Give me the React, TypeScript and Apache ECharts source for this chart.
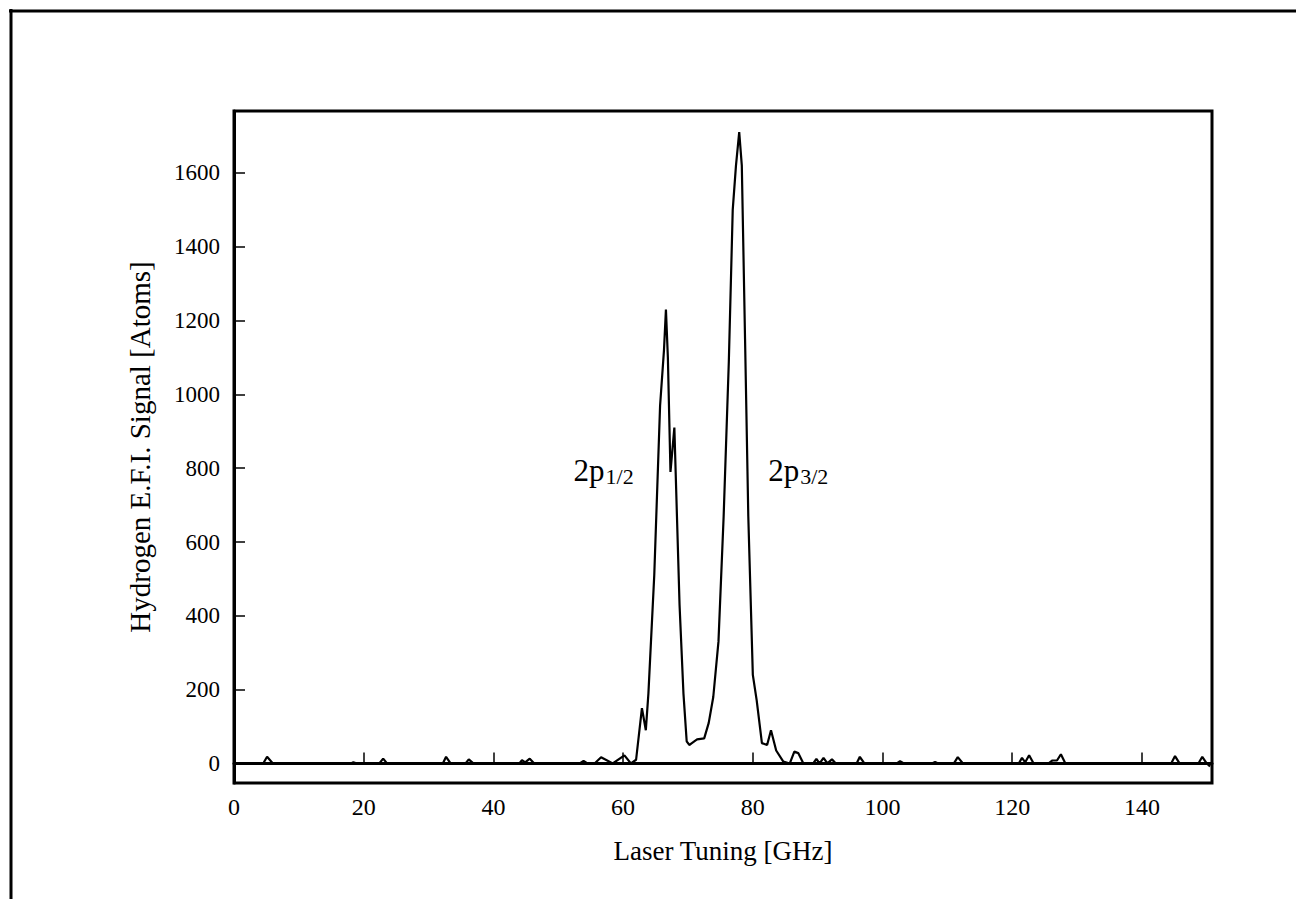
import React, { useEffect, useRef } from "react";
import * as echarts from "echarts";

// Laser tuning [GHz]
const tuning: number[] = [
  0, 4.5, 5.1, 6, 18, 18.4, 19, 22.4, 23, 23.6, 32.2, 32.7, 33.4, 35.7, 36.2, 36.9,
  44, 44.4, 44.9, 45.6, 46.3, 53.3, 53.9, 54.5, 55.6, 56.6, 58.4, 60.2, 61.2, 62,
  62.9, 63.5, 63.9, 64.8, 65.7, 66.3, 66.6, 66.9, 67.3, 67.7, 67.9, 68.3, 68.7, 69.3,
  69.8, 70.2, 70.6, 71.4, 72.5, 73.2, 73.9, 74.7, 75.5, 76.3, 76.9, 77.4, 77.9, 78.3,
  78.8, 79.3, 80, 80.6, 81.4, 82.2, 82.8, 83.6, 84.7, 85.7, 86.4, 87, 87.8, 89.3,
  89.8, 90.3, 90.9, 91.5, 92.2, 92.8, 96, 96.5, 97.2, 102.2, 102.7, 103.3, 107.6, 108.1,
  108.6, 111, 111.6, 112.4, 121, 121.5, 122, 122.6, 123.3, 125.6, 126.2, 126.9, 127.5,
  128.2, 144.5, 145.1, 145.8, 148.7, 149.3, 149.9, 150.5,
];

// Hydrogen E.F.I. signal [atoms]
const signal: number[] = [
  0, 0, 18, 0, 0, 3, 0, 0, 13, 0, 0, 18, 0, 0, 11, 0,
  0, 9, 3, 13, 0, 0, 7, 0, 0, 17, 0, 22, 0, 10,
  150, 90, 190, 510, 970, 1120, 1230, 1100, 790, 870, 910, 670, 430, 190,
  60, 50, 55, 65, 68, 110, 180, 330, 670, 1090, 1500, 1620, 1711, 1620,
  1150, 670, 240, 170, 55, 50, 90, 35, 5, 0, 32, 28, 0, 0,
  12, 0, 15, 0, 11, 0, 0, 18, 0, 0, 6, 0, 0, 4,
  0, 0, 17, 0, 0, 15, 3, 22, 0, 0, 8, 8, 25,
  0, 0, 20, 0, 0, 18, 2, -8,
];

const xTicks: number[] = [0, 20, 40, 60, 80, 100, 120, 140];
const yTicks: number[] = [0, 200, 400, 600, 800, 1000, 1200, 1400, 1600];

const peakLabels = [
  { x: 57.0, y: 795, sub: "1/2" },
  { x: 87.0, y: 795, sub: "3/2" },
];

const FONT = "'Liberation Serif', 'Times New Roman', serif";

export default function App() {
  const ref = useRef<HTMLDivElement>(null);
  useEffect(() => {
    if (!ref.current) return;
    const chart = echarts.init(ref.current, undefined, { renderer: "svg" });
    const data = tuning.map((t, i) => [t, signal[i]]);
    chart.setOption({
      animation: false,
      backgroundColor: "#fff",
      textStyle: { fontFamily: FONT, color: "#000" },
      grid: {
        left: 234,
        top: 111,
        width: 978,
        height: 672,
        show: true,
        borderColor: "#000",
        borderWidth: 3,
        backgroundColor: "transparent",
      },
      xAxis: {
        type: "value",
        min: 0,
        max: 150.8,
        name: "Laser Tuning [GHz]",
        nameLocation: "middle",
        nameGap: 54,
        nameTextStyle: { fontFamily: FONT, fontSize: 27, color: "#000" },
        axisLine: { show: true, lineStyle: { color: "#000", width: 3 } },
        axisTick: {
          show: true,
          inside: true,
          length: 11,
          customValues: xTicks,
          lineStyle: { color: "#000", width: 1.5 },
        },
        axisLabel: {
          customValues: xTicks,
          margin: 12,
          fontFamily: FONT,
          fontSize: 24,
          color: "#000",
          formatter: (v: number) => String(v),
        },
        splitLine: { show: false },
      },
      yAxis: {
        type: "value",
        min: -53,
        max: 1768,
        name: "Hydrogen E.F.I. Signal [Atoms]",
        nameLocation: "middle",
        nameGap: 80,
        nameTextStyle: { fontFamily: FONT, fontSize: 29, color: "#000" },
        axisLine: { show: true, lineStyle: { color: "#000", width: 3 } },
        axisTick: {
          show: true,
          inside: true,
          length: 11,
          customValues: yTicks,
          lineStyle: { color: "#000", width: 1.5 },
        },
        axisLabel: {
          customValues: yTicks,
          margin: 14,
          fontFamily: FONT,
          fontSize: 23,
          color: "#000",
          formatter: (v: number) => String(v),
        },
        splitLine: { show: false },
      },
      graphic: [
        {
          type: "line",
          shape: { x1: 9, y1: 11, x2: 1296, y2: 11 },
          style: { stroke: "#000", lineWidth: 3 },
        },
        {
          type: "line",
          shape: { x1: 11, y1: 9, x2: 11, y2: 899 },
          style: { stroke: "#000", lineWidth: 3 },
        },
      ],
      series: [
        {
          type: "line",
          data,
          showSymbol: false,
          symbol: "none",
          lineStyle: { color: "#000", width: 2.2 },
          z: 3,
        },
        {
          type: "scatter",
          symbolSize: 0,
          silent: true,
          itemStyle: { opacity: 1, color: "#000" },
          data: peakLabels.map((p) => ({ value: [p.x, p.y], sub: p.sub })),
          label: {
            show: true,
            position: "inside",
            color: "#000",
            opacity: 1,
            formatter: (p: any) => `{a|2p}{b|${p.data.sub}}`,
            rich: {
              a: { fontFamily: FONT, fontSize: 31, color: "#000", lineHeight: 34 },
              b: {
                fontFamily: FONT,
                fontSize: 22,
                color: "#000",
                verticalAlign: "bottom",
                lineHeight: 22,
                padding: [12, 0, 0, 1],
              },
            },
          },
        },
      ],
    });
    return () => chart.dispose();
  }, []);
  return (
    <div
      ref={ref}
      style={{ position: "absolute", left: 0, top: 0, width: 1296, height: 899 }}
    />
  );
}
